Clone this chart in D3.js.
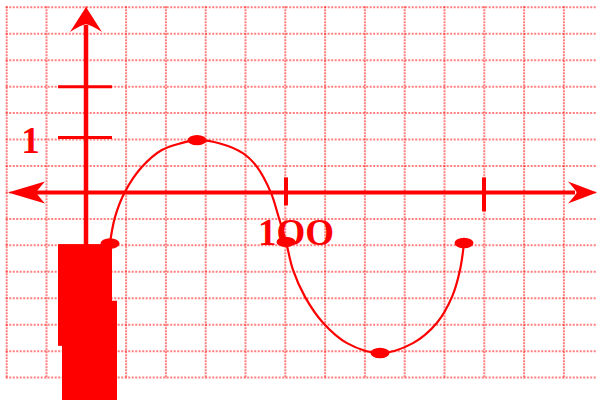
<!DOCTYPE html>
<html>
<head>
<meta charset="utf-8">
<script src="https://cdn.jsdelivr.net/npm/d3@7"></script>
<style>
  body { margin: 0; background: #fff; }
  svg { display: block; }
</style>
</head>
<body>
<svg id="chart"></svg>
<script>
// wave
var curveX = [12, 14.5, 19.5, 27.9, 37.9, 47, 55.5, 67, 78.6, 85.4, 92.4, 96.5, 100, 103.5, 109.5, 118.5, 130.5, 147, 163.5, 175.5, 183, 187, 189];
var curveY = [-0.92, -0.45, 0.01, 0.46, 0.77, 0.89, 0.95, 0.89, 0.71, 0.47, 0, -0.47, -0.9, -1.41, -1.9, -2.37, -2.74, -2.92, -2.74, -2.37, -1.9, -1.41, -0.92];
// the dots on the wave
var pointX = [12, 55.5, 100, 147, 189];
var pointY = [-0.93, 0.95, -0.9, -2.92, -0.92];
// ticks
var xTicks = [100, 199];
var xTickLabels = ["1OO", ""];
var yTicks = [1, 1.92];
var yTickLabels = ["1", ""];
// the filled block under the y axis
var blockX0 = [-14, -12];
var blockX1 = [13, 15.5];
var blockTop = [-0.94, -1.97];
var blockBottom = [-2.79, -3.78];

var width = 597, height = 400;
var red = "#ff0000";

var svg = d3.select("#chart").attr("width", width).attr("height", height);

var x = d3.scaleLinear().domain([0, 100]).range([86, 286]);
var y = d3.scaleLinear().domain([0, 1]).range([192.4, 137.4]);

// squared paper
var gx = d3.scaleLinear().domain([0, 1]).range([6.7, 46.5]);
var gy = d3.scaleLinear().domain([0, 1]).range([7.3, 33.75]);
var grid = svg.append("g")
    .attr("stroke", red)
    .attr("stroke-opacity", 0.5)
    .attr("stroke-width", 2);
grid.selectAll(".v").data(d3.range(15)).enter().append("line")
    .attr("x1", gx).attr("x2", gx)
    .attr("y1", gy(0) - 1).attr("y2", gy(14) + 1)
    .attr("stroke-dasharray", "2,1");
grid.selectAll(".h").data(d3.range(15)).enter().append("line")
    .attr("x1", gx(0) - 1).attr("x2", width)
    .attr("y1", gy).attr("y2", gy)
    .attr("stroke-dasharray", "2,1.5");

// block
svg.append("g").selectAll("rect")
    .data(blockX0).enter().append("rect")
    .attr("x", function(d) { return x(d); })
    .attr("width", function(d, i) { return x(blockX1[i]) - x(d); })
    .attr("y", function(d, i) { return y(blockTop[i]); })
    .attr("height", function(d, i) { return y(blockBottom[i]) - y(blockTop[i]); })
    .attr("fill", red);

// axes
var axes = svg.append("g").attr("fill", red).attr("stroke", red);
var x0 = x(-39), x1 = x(255.5), y0 = y(0), yTop = y(3.37);

axes.append("line")
    .attr("x1", x0 + 28).attr("x2", x1 - 22)
    .attr("y1", y0).attr("y2", y0)
    .attr("stroke-width", 4);
axes.append("line")
    .attr("x1", x(0)).attr("x2", x(0))
    .attr("y1", yTop + 18).attr("y2", y(-1))
    .attr("stroke-width", 4.5);

// arrow heads
axes.append("path").attr("stroke", "none")
    .attr("d", "M" + x1 + "," + y0 + "L" + (x1 - 29) + "," + (y0 - 11) +
        "Q" + (x1 - 22) + "," + (y0 - 3) + " " + (x1 - 20) + "," + y0 +
        "Q" + (x1 - 22) + "," + (y0 + 3) + " " + (x1 - 29) + "," + (y0 + 11) + "Z");
axes.append("path").attr("stroke", "none")
    .attr("d", "M" + x0 + "," + y0 + "L" + (x0 + 37) + "," + (y0 - 11) +
        "Q" + (x0 + 30) + "," + (y0 - 3) + " " + (x0 + 28) + "," + y0 +
        "Q" + (x0 + 30) + "," + (y0 + 3) + " " + (x0 + 37) + "," + (y0 + 11) + "Z");
axes.append("path").attr("stroke", "none")
    .attr("d", "M" + x(0) + "," + yTop + "L" + (x(0) + 16) + "," + (yTop + 25) +
        "Q" + (x(0) + 5) + "," + (yTop + 18) + " " + x(0) + "," + (yTop + 17) +
        "Q" + (x(0) - 5) + "," + (yTop + 18) + " " + (x(0) - 16) + "," + (yTop + 25) + "Z");

// ticks
axes.selectAll(".xt").data(xTicks).enter().append("line")
    .attr("x1", x).attr("x2", x)
    .attr("y1", y0 - 15)
    .attr("y2", function(d, i) { return y0 + (i ? 19 : 13); })
    .attr("stroke-width", 4);
axes.selectAll(".yt").data(yTicks).enter().append("line")
    .attr("x1", x(0) - 28).attr("x2", x(0) + 26)
    .attr("y1", y).attr("y2", y)
    .attr("stroke-width", 3);

// wave
var line = d3.line()
    .x(function(d, i) { return x(curveX[i]); })
    .y(function(d) { return y(d); })
    .curve(d3.curveCatmullRom.alpha(0.5));
svg.append("path")
    .datum(curveY)
    .attr("d", line)
    .attr("fill", "none")
    .attr("stroke", red)
    .attr("stroke-width", 2.2);

svg.append("g").selectAll("ellipse")
    .data(pointX).enter().append("ellipse")
    .attr("cx", function(d) { return x(d); })
    .attr("cy", function(d, i) { return y(pointY[i]); })
    .attr("rx", 9.5).attr("ry", 5.2)
    .attr("fill", red);

// tick labels
var font = "'Liberation Serif', 'DejaVu Serif', serif";
svg.append("g").selectAll("text")
    .data(xTicks).enter().append("text")
    .attr("x", function(d) { return x(d) - 28; })
    .attr("y", y0 + 52.6)
    .attr("font-family", font).attr("font-weight", "bold").attr("font-size", 37)
    .attr("fill", red)
    .text(function(d, i) { return xTickLabels[i]; });
svg.append("g").selectAll("text")
    .data(yTicks).enter().append("text")
    .attr("x", 30.5)
    .attr("y", function(d) { return y(d) + 15.6; })
    .attr("text-anchor", "middle")
    .attr("font-family", font).attr("font-weight", "bold").attr("font-size", 37)
    .attr("fill", red)
    .text(function(d, i) { return yTickLabels[i]; });
</script>
</body>
</html>
